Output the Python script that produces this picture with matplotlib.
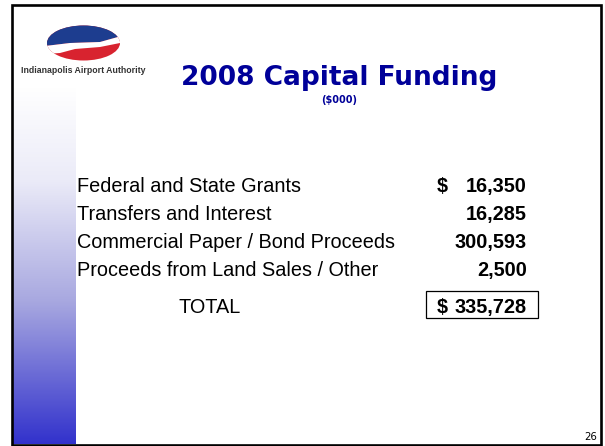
import numpy as np
import matplotlib.pyplot as plt
from matplotlib.patches import Rectangle, Ellipse, Polygon
from matplotlib.colors import LinearSegmentedColormap

# slide content
title = "2008 Capital Funding"
subtitle = "($000)"
categories = [
    "Federal and State Grants",
    "Transfers and Interest",
    "Commercial Paper / Bond Proceeds",
    "Proceeds from Land Sales / Other",
]
amounts = [16350, 16285, 300593, 2500]
total_label = "TOTAL"
page_no = "26"

navy = "#000099"

fig = plt.figure(figsize=(6.05, 4.46), dpi=100)
ax = fig.add_axes([0, 0, 1, 1])
ax.set_xlim(0, 605)
ax.set_ylim(446, 0)
ax.axis("off")

# left gradient strip
grad = LinearSegmentedColormap.from_list(
    "strip", [(0, "#ffffff"), (0.26, "#ebebf8"), (0.6, "#a8a8e0"), (1, "#3232cc")])
g = np.linspace(0, 1, 256).reshape(-1, 1)
ax.imshow(g, cmap=grad, extent=(13, 76, 444, 87), aspect="auto", zorder=1)

# slide border
ax.add_patch(Rectangle((12, 5), 589, 440, fill=False, ec="black", lw=1.9, zorder=5))

# logo
oval = Ellipse((83.5, 43), 73, 35, fc="#d8232f", ec="none", zorder=2)
ax.add_patch(oval)
top = Polygon([(45, 20), (125, 20), (125, 35), (100, 42), (70, 43), (45, 46)],
              fc="#1d3d8f", ec="none", zorder=3)
ax.add_patch(top)
top.set_clip_path(oval)
swoosh = Polygon([(45, 46), (70, 43), (100, 42), (125, 35), (125, 42),
                  (100, 47), (75, 49), (60, 53), (45, 54)],
                 fc="white", ec="none", zorder=3)
ax.add_patch(swoosh)
swoosh.set_clip_path(oval)
ax.text(83.5, 70.5, "Indianapolis Airport Authority", ha="center", va="center",
        fontsize=6.3, fontweight="bold", color="#333333", family="Liberation Sans")

# title
ax.text(339, 85, title, ha="center", va="baseline", fontsize=19,
        fontweight="bold", color=navy, family="DejaVu Sans")
ax.text(339, 100, subtitle, ha="center", va="center", fontsize=7,
        fontweight="bold", color=navy, family="DejaVu Sans")

# table rows
body = dict(fontsize=14.3, family="Liberation Sans", color="black")
base = [192, 220, 248, 276]
for i, (cat, val) in enumerate(zip(categories, amounts)):
    ax.text(77, base[i], cat, ha="left", va="baseline", **body)
    ax.text(527, base[i], f"{val:,}", ha="right", va="baseline",
            fontweight="bold", **body)
    if i == 0:
        ax.text(437, base[i], "$", ha="left", va="baseline",
                fontweight="bold", **body)

total = sum(amounts)
ax.text(210, 313, total_label, ha="center", va="baseline", **body)
ax.text(437, 313, "$", ha="left", va="baseline", fontweight="bold", **body)
ax.text(527, 313, f"{total:,}", ha="right", va="baseline", fontweight="bold", **body)
ax.add_patch(Rectangle((426, 291), 112, 27, fill=False, ec="black", lw=0.9, zorder=4))

ax.text(591, 437, page_no, ha="center", va="center", fontsize=7.3, color="black")

fig.savefig("out.png", dpi=100)
